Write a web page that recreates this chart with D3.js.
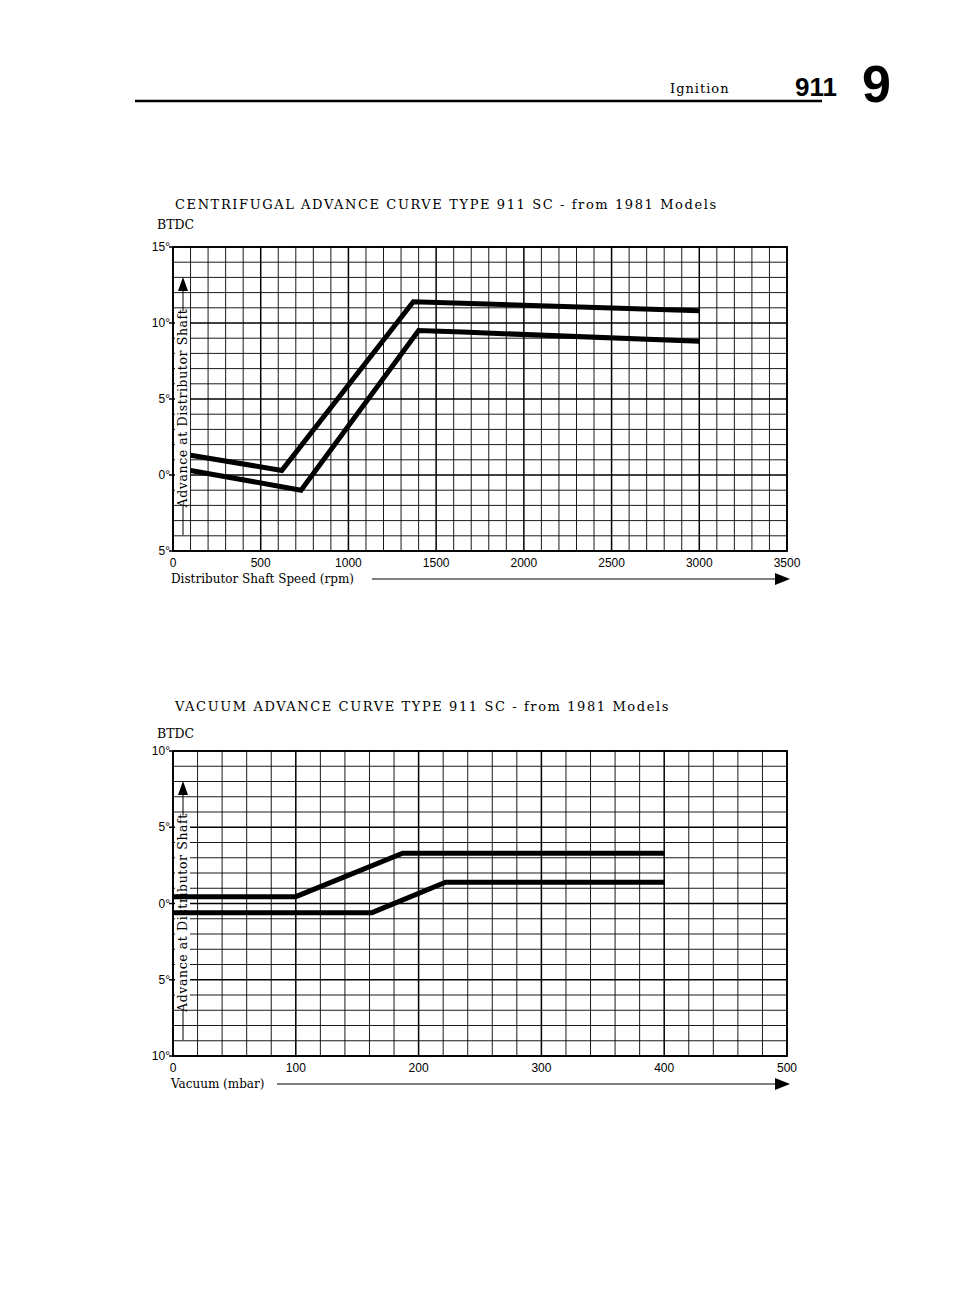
<!DOCTYPE html><html><head><meta charset="utf-8">
<script src="https://cdn.jsdelivr.net/npm/d3@7"></script>
<style>body{margin:0;background:#fff}</style></head><body>
<script>
const cfTitle="CENTRIFUGAL ADVANCE CURVE TYPE 911 SC - from 1981 Models";
const cfTicksX=[0,500,1000,1500,2000,2500,3000,3500];
const cfTicksY=[15,10,5,0,-5];
const cfTickLabelsY=["15°","10°","5°","0°","5°"];
const cfUpper=[[100,1.3],[620,0.3],[1370,11.4],[1650,11.3],[3000,10.8]];
const cfLower=[[100,0.3],[730,-1.0],[1400,9.5],[1650,9.4],[3000,8.8]];
const vaTitle="VACUUM ADVANCE CURVE TYPE 911 SC - from 1981 Models";
const vaTicksX=[0,100,200,300,400,500];
const vaTicksY=[10,5,0,-5,-10];
const vaTickLabelsY=["10°","5°","0°","5°","10°"];
const vaUpper=[[0,0.45],[100,0.45],[187,3.3],[400,3.3]];
const vaLower=[[0,-0.6],[162,-0.6],[222,1.4],[400,1.4]];

const svg=d3.select("body").append("svg").attr("width",960).attr("height",1306);
svg.append("text").attr("x",670).attr("y",93).attr("font-family","DejaVu Serif").attr("font-size",13).attr("letter-spacing",1).text("Ignition");
svg.append("text").attr("x",795).attr("y",96).attr("font-family","Liberation Sans Narrow, Liberation Sans").attr("font-weight","bold").attr("font-size",26).text("911");
svg.append("text").attr("x",862).attr("y",102).attr("font-family","Liberation Sans Narrow, Liberation Sans").attr("font-weight","bold").attr("font-size",52).text("9");
svg.append("line").attr("x1",135).attr("x2",822).attr("y1",101).attr("y2",101).attr("stroke","#000").attr("stroke-width",2.5);

function chart(o){
  const x=d3.scaleLinear().domain(o.xd).range([173,787]);
  const y=d3.scaleLinear().domain(o.yd).range([o.y0,o.y1]);
  const g=svg.append("g");
  const top=y(o.yd[1]), bot=y(o.yd[0]), x0=x(o.xd[0]);
  svg.append("text").attr("x",175).attr("y",o.titleY).attr("font-family","DejaVu Serif").attr("font-size",13).attr("letter-spacing",1.6).text(o.title);
  svg.append("text").attr("x",157).attr("y",o.btdcY).attr("font-family","DejaVu Serif").attr("font-size",12.5).text("BTDC");
  d3.range(o.xd[0],o.xd[1]+1e-9,o.xs).forEach(v=>{
    const major=Math.abs(v%o.xmaj)<1e-6;
    g.append("line").attr("x1",x(v)).attr("x2",x(v)).attr("y1",top).attr("y2",bot).attr("stroke","#000").attr("stroke-width",major?1.5:0.9);
  });
  d3.range(o.yd[0],o.yd[1]+1e-9,1).forEach(v=>{
    const major=v%5===0;
    g.append("line").attr("x1",x0-(major?4:0)).attr("x2",x(o.xd[1])).attr("y1",y(v)).attr("y2",y(v)).attr("stroke","#000").attr("stroke-width",major?1.5:0.9);
  });
  g.append("rect").attr("x",x0).attr("y",top).attr("width",x(o.xd[1])-x0).attr("height",bot-top).attr("fill","none").attr("stroke","#000").attr("stroke-width",1.8);
  o.ticksX.forEach(v=>svg.append("text").attr("x",x(v)).attr("y",bot+16).attr("text-anchor","middle").attr("font-family","Liberation Sans").attr("font-size",12).text(v));
  o.ticksY.forEach((v,i)=>svg.append("text").attr("x",x0-3).attr("y",y(v)+4).attr("text-anchor","end").attr("font-family","Liberation Sans").attr("font-size",12).text(o.ticksYL[i]));
  const ymid=(top+bot)/2, cx=x0+10;
  svg.append("rect").attr("x",cx-8).attr("y",ymid-82).attr("width",15).attr("height",182).attr("fill","#fff");
  svg.append("text").attr("transform",`translate(${cx+4},${ymid+9}) rotate(-90)`).attr("text-anchor","middle").attr("font-family","DejaVu Serif").attr("font-size",12.5).attr("letter-spacing",0.6).text("Advance at Distributor Shaft");
  svg.append("line").attr("x1",cx).attr("x2",cx).attr("y1",top+40).attr("y2",ymid-88).attr("stroke","#000");
  svg.append("path").attr("d",`M${cx-5},${top+44}L${cx},${top+30}L${cx+5},${top+44}Z`);
  svg.append("line").attr("x1",cx).attr("x2",cx).attr("y1",bot-16).attr("y2",ymid+106).attr("stroke","#000");
  const line=d3.line().x(d=>x(d[0])).y(d=>y(d[1]));
  [o.up,o.lo].forEach(d=>svg.append("path").attr("d",line(d)).attr("fill","none").attr("stroke","#000").attr("stroke-width",5));
  svg.append("text").attr("x",171).attr("y",bot+32).attr("font-family","DejaVu Serif").attr("font-size",12).text(o.xlabel);
  svg.append("line").attr("x1",o.arrowStart).attr("x2",775).attr("y1",bot+28).attr("y2",bot+28).attr("stroke","#000");
  svg.append("path").attr("d",`M775,${bot+22}L790,${bot+28}L775,${bot+34}Z`);
}
chart({xd:[0,3500],yd:[-5,15],y0:551,y1:247,xs:100,xmaj:500,title:cfTitle,titleY:209,btdcY:229,ticksX:cfTicksX,ticksY:cfTicksY,ticksYL:cfTickLabelsY,up:cfUpper,lo:cfLower,xlabel:"Distributor Shaft Speed (rpm)",arrowStart:372});
chart({xd:[0,500],yd:[-10,10],y0:1056,y1:751,xs:20,xmaj:100,title:vaTitle,titleY:711,btdcY:738,ticksX:vaTicksX,ticksY:vaTicksY,ticksYL:vaTickLabelsY,up:vaUpper,lo:vaLower,xlabel:"Vacuum (mbar)",arrowStart:277});
</script></body></html>
